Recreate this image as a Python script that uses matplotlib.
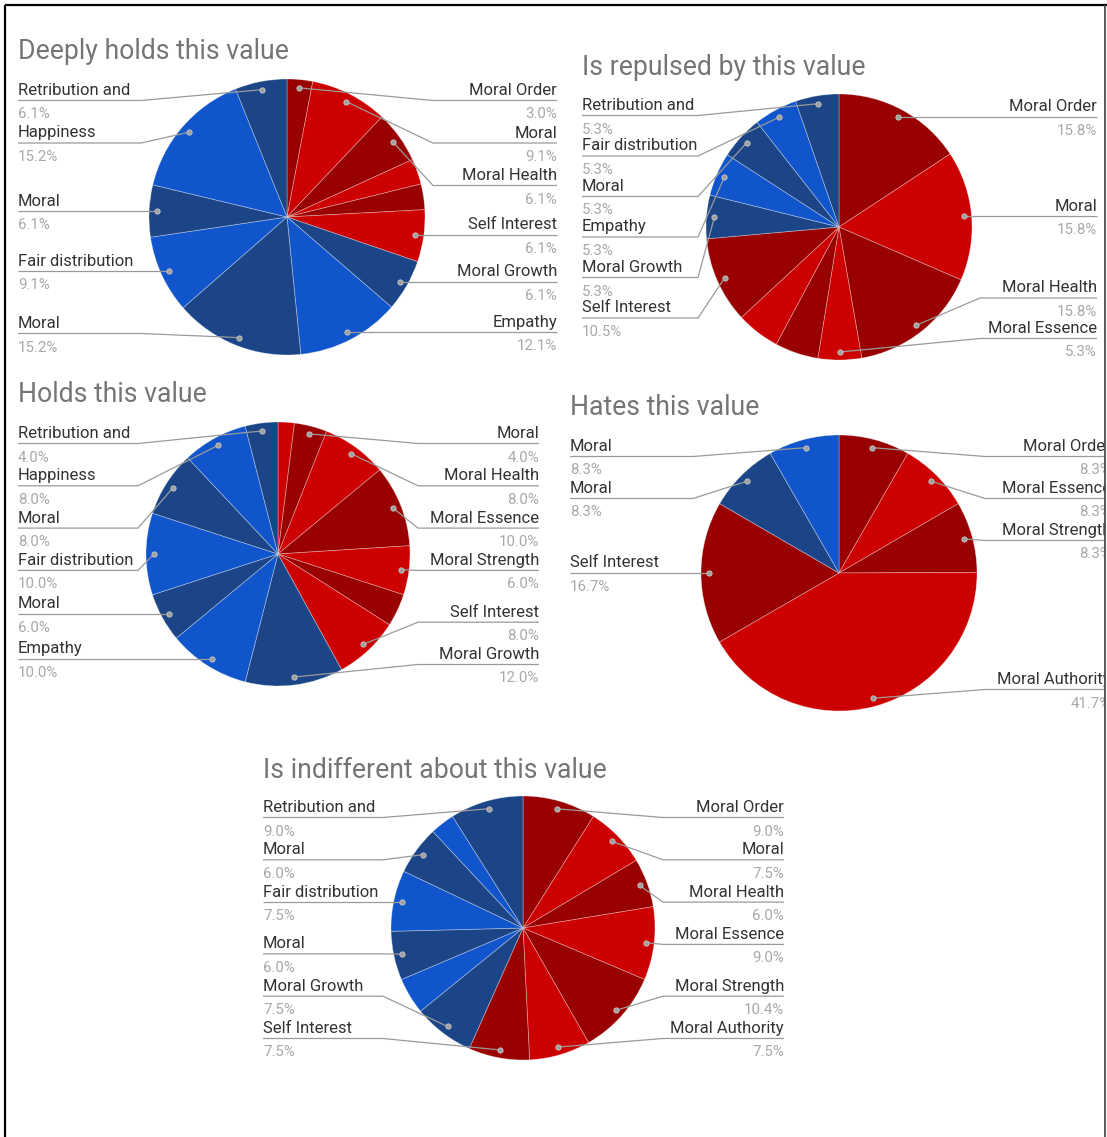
import matplotlib
matplotlib.use("Agg")
import matplotlib.pyplot as plt
import numpy as np
from matplotlib.patches import Rectangle

W, H = 1107, 1137

# ---------------------------------------------------------------- data
DEEPLY_NAMES = ["Moral Order", "Moral", "Moral Health", "Moral Essence", "Moral Strength",
                "Self Interest", "Moral Growth", "Empathy", "Moral", "Fair distribution",
                "Moral", "Happiness", "Retribution and"]
DEEPLY_PCT = [3.0, 9.1, 6.1, 3.0, 3.0, 6.1, 6.1, 12.1, 15.2, 9.1, 6.1, 15.2, 6.1]
DEEPLY_NO_CALLOUT = [3, 4]

REPULSED_NAMES = ["Moral Order", "Moral", "Moral Health", "Moral Essence", "Moral Strength",
                  "Moral Authority", "Self Interest", "Moral Growth", "Empathy", "Moral",
                  "Fair distribution", "Retribution and"]
REPULSED_PCT = [15.8, 15.8, 15.8, 5.3, 5.3, 5.3, 10.5, 5.3, 5.3, 5.3, 5.3, 5.3]
REPULSED_NO_CALLOUT = [4, 5]

HOLDS_NAMES = ["Moral Order", "Moral", "Moral Health", "Moral Essence", "Moral Strength",
               "Moral Authority", "Self Interest", "Moral Growth", "Empathy", "Moral",
               "Fair distribution", "Moral", "Happiness", "Retribution and"]
HOLDS_PCT = [2.0, 4.0, 8.0, 10.0, 6.0, 4.0, 8.0, 12.0, 10.0, 6.0, 10.0, 8.0, 8.0, 4.0]
HOLDS_NO_CALLOUT = [0, 5]

HATES_NAMES = ["Moral Order", "Moral Essence", "Moral Strength", "Moral Authority",
               "Self Interest", "Moral", "Moral"]
HATES_PCT = [8.3, 8.3, 8.3, 41.7, 16.7, 8.3, 8.3]
HATES_NO_CALLOUT = []

INDIFF_NAMES = ["Moral Order", "Moral", "Moral Health", "Moral Essence", "Moral Strength",
                "Moral Authority", "Self Interest", "Moral Growth", "Empathy", "Moral",
                "Fair distribution", "Moral", "Happiness", "Retribution and"]
INDIFF_PCT = [9.0, 7.5, 6.0, 9.0, 10.4, 7.5, 7.5, 7.5, 4.5, 6.0, 7.5, 6.0, 3.0, 9.0]
INDIFF_NO_CALLOUT = [8, 12]

# ---------------------------------------------------------------- style
DR, R, DB, B = "#990000", "#cc0000", "#1c4587", "#1155cc"
FONT = ["Roboto", "DejaVu Sans"]
NAME_COLOR = "#333333"
VALUE_COLOR = "#a8a8a8"
TITLE_COLOR = "#757575"
LEADER_COLOR = "#9a9a9a"
NAME_SIZE = 12
VALUE_SIZE = 10.8
TITLE_SIZE = 19.2

PANELS = [
    dict(title="Deeply holds this value", names=DEEPLY_NAMES, pct=DEEPLY_PCT,
         hidden=DEEPLY_NO_CALLOUT,
         colors=[DR, R, DR, R, DR, R, DB, B, DB, B, DB, B, DB],
         center=(287, 217), radius=138, title_xy=(18, 59),
         left_x=18, right_x=557, gap=42.5),
    dict(title="Is repulsed by this value", names=REPULSED_NAMES, pct=REPULSED_PCT,
         hidden=REPULSED_NO_CALLOUT,
         colors=[DR, R, DR, R, DR, R, DR, DB, B, DB, B, DB],
         center=(839, 227), radius=133, title_xy=(582, 75),
         left_x=582, right_x=1097, gap=40.5),
    dict(title="Holds this value", names=HOLDS_NAMES, pct=HOLDS_PCT,
         hidden=HOLDS_NO_CALLOUT,
         colors=[R, DR, R, DR, R, DR, R, DB, B, DB, B, DB, B, DB],
         center=(278, 554), radius=132, title_xy=(18, 402),
         left_x=18, right_x=539, gap=42.3),
    dict(title="Hates this value", names=HATES_NAMES, pct=HATES_PCT,
         hidden=HATES_NO_CALLOUT,
         colors=[DR, R, DR, R, DR, DB, B],
         center=(839, 573), radius=138, title_xy=(570, 415),
         left_x=570, right_x=1111, gap=42.0),
    dict(title="Is indifferent about this value", names=INDIFF_NAMES, pct=INDIFF_PCT,
         hidden=INDIFF_NO_CALLOUT,
         colors=[DR, R, DR, R, DR, R, DR, DB, B, DB, B, DB, B, DB],
         center=(523, 928), radius=132, title_xy=(263, 778),
         left_x=263, right_x=784, gap=42.3),
]


def place_side(items, gap, ymin, ymax):
    """Spread callout rows so they stay inside [ymin, ymax] without overlapping."""
    items.sort(key=lambda it: it["dot"][1])
    prev = None
    for it in items:
        y = max(it["dot"][1], ymin)
        if prev is not None:
            y = max(y, prev + gap)
        it["y"] = y
        prev = y
    nxt = None
    for it in reversed(items):
        y = min(it["y"], ymax)
        if nxt is not None:
            y = min(y, nxt - gap)
        it["y"] = y
        nxt = y


def draw_panel(ax, p):
    cx, cy = p["center"]
    r = p["radius"]
    vals = np.asarray(p["pct"], dtype=float)

    # y axis points down, so counterclock=True reads clockwise on screen
    ax.pie(vals, colors=p["colors"], startangle=-90, counterclock=True,
           center=(cx, cy), radius=r, frame=True,
           wedgeprops=dict(edgecolor=(1, 1, 1, 0.35), linewidth=0.6))

    ax.text(p["title_xy"][0], p["title_xy"][1], p["title"], fontsize=TITLE_SIZE,
            color=TITLE_COLOR, family=FONT, ha="left", va="baseline")

    frac = vals / vals.sum()
    mids = (np.cumsum(frac) - frac / 2) * 360.0
    dot_r = 0.94 * r

    sides = {"left": [], "right": []}
    for i, (name, v, m) in enumerate(zip(p["names"], p["pct"], mids)):
        if i in p["hidden"]:
            continue
        phi = np.radians(m)
        dot = (cx + dot_r * np.sin(phi), cy - dot_r * np.cos(phi))
        side = "right" if m <= 180 else "left"
        sides[side].append(dict(name=name, value=v, dot=dot))

    ymin, ymax = cy - r + 21.5, cy + r - 21.5
    for side, items in sides.items():
        place_side(items, p["gap"], ymin, ymax)
        if side == "right":
            ex, tx, ha = cx + r + 8, p["right_x"], "right"
        else:
            ex, tx, ha = cx - r - 8, p["left_x"], "left"
        for it in items:
            dx, dy = it["dot"]
            y = it["y"]
            ax.plot([dx, ex, tx], [dy, y, y], color=LEADER_COLOR, lw=0.9,
                    solid_capstyle="butt", zorder=3)
            ax.plot([dx], [dy], marker="o", ms=3.8, color="#a0a0a0",
                    mec="#c8c8c8", mew=0.6, zorder=4)
            ax.text(tx, y - 5.5, it["name"], fontsize=NAME_SIZE, color=NAME_COLOR,
                    family=FONT, ha=ha, va="baseline", zorder=5)
            ax.text(tx, y + 18, f"{it['value']:.1f}%", fontsize=VALUE_SIZE,
                    color=VALUE_COLOR, family=FONT, ha=ha, va="baseline", zorder=5)


fig = plt.figure(figsize=(W / 100, H / 100), dpi=100)
fig.patch.set_facecolor("white")
ax = fig.add_axes([0, 0, 1, 1])

for panel in PANELS:
    draw_panel(ax, panel)

# page frame; the right edge trims the overflowing callouts
ax.add_patch(Rectangle((1105, 0), 10, H, facecolor="white", edgecolor="none", zorder=8))
ax.plot([5, 5], [5, H], color="black", lw=1.6, zorder=9, solid_capstyle="butt")
ax.plot([5, W], [5, 5], color="black", lw=1.6, zorder=9, solid_capstyle="butt")
ax.plot([1105, 1105], [5, H], color="#4a4a4a", lw=1.3, zorder=9, solid_capstyle="butt")

ax.set_xlim(0, W)
ax.set_ylim(H, 0)
ax.set_aspect("equal")
ax.axis("off")

fig.savefig("out.png", dpi=100, facecolor="white")
